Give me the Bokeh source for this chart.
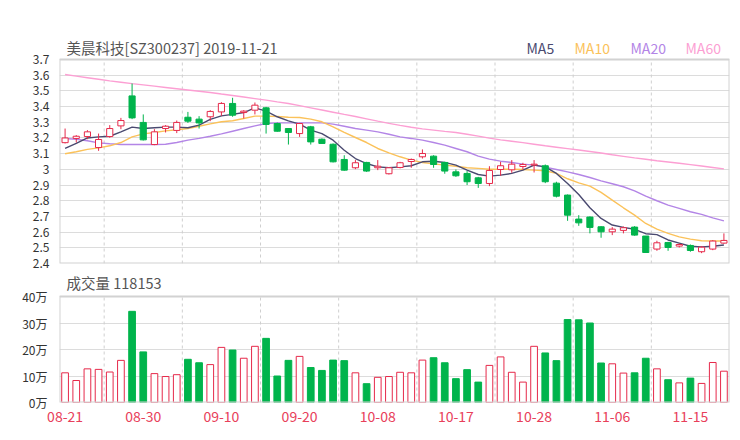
from bokeh.plotting import figure
from bokeh.layouts import column
from bokeh.models import FixedTicker, Label, Range1d, ColumnDataSource
from bokeh.embed import file_html
from bokeh.resources import INLINE

TITLE = "美晨科技[SZ300237] 2019-11-21"
VOL_TITLE = "成交量 118153"

DATES = ["08-21", "08-22", "08-23", "08-26", "08-27", "08-28", "08-29", "08-30",
         "09-02", "09-03", "09-04", "09-05", "09-06", "09-09", "09-10", "09-11",
         "09-12", "09-16", "09-17", "09-18", "09-19", "09-20", "09-23", "09-24",
         "09-25", "09-26", "09-27", "09-30", "10-08", "10-09", "10-10", "10-11",
         "10-14", "10-15", "10-16", "10-17", "10-18", "10-21", "10-22", "10-23",
         "10-24", "10-25", "10-28", "10-29", "10-30", "10-31", "11-01", "11-04",
         "11-05", "11-06", "11-07", "11-08", "11-11", "11-12", "11-13", "11-14",
         "11-15", "11-18", "11-19", "11-20"]

OPEN = [3.17, 3.197, 3.209, 3.139, 3.209, 3.277, 3.468, 3.299, 3.158, 3.26,
        3.248, 3.332, 3.32, 3.335, 3.366, 3.42, 3.362, 3.377, 3.392, 3.292,
        3.26, 3.228, 3.271, 3.192, 3.16, 3.063, 3.01, 3.044, 3.01, 2.972,
        3.012, 3.05, 3.08, 3.084, 3.044, 2.984, 2.974, 2.946, 2.91, 2.999,
        2.997, 3.018, 3.027, 3.023, 2.912, 2.836, 2.683, 2.696, 2.634, 2.602,
        2.611, 2.632, 2.575, 2.492, 2.534, 2.511, 2.515, 2.475, 2.492, 2.53]
CLOSE = [3.20, 3.211, 3.239, 3.19, 3.26, 3.311, 3.328, 3.188, 3.239, 3.275,
         3.299, 3.307, 3.296, 3.369, 3.42, 3.345, 3.371, 3.409, 3.286, 3.243,
         3.235, 3.292, 3.175, 3.165, 3.048, 2.995, 3.042, 2.989, 3.02, 3.01,
         3.042, 3.063, 3.101, 3.031, 2.989, 2.959, 2.921, 2.91, 2.993, 3.023,
         3.033, 3.031, 3.033, 2.921, 2.829, 2.708, 2.659, 2.63, 2.602, 2.619,
         2.628, 2.581, 2.47, 2.532, 2.502, 2.521, 2.483, 2.504, 2.543, 2.547]
HIGH = [3.26, 3.218, 3.25, 3.228, 3.282, 3.328, 3.547, 3.35, 3.256, 3.282,
        3.311, 3.366, 3.339, 3.377, 3.428, 3.456, 3.377, 3.426, 3.398, 3.298,
        3.262, 3.296, 3.277, 3.197, 3.165, 3.09, 3.059, 3.048, 3.059, 3.014,
        3.048, 3.069, 3.127, 3.09, 3.048, 2.999, 2.989, 2.952, 3.02, 3.048,
        3.059, 3.042, 3.059, 3.031, 2.921, 2.84, 2.708, 2.70, 2.638, 2.632,
        2.636, 2.638, 2.575, 2.545, 2.538, 2.528, 2.521, 2.511, 2.549, 2.592]
LOW = [3.165, 3.171, 3.192, 3.118, 3.201, 3.256, 3.32, 3.184, 3.154, 3.235,
       3.231, 3.296, 3.26, 3.307, 3.341, 3.335, 3.324, 3.35, 3.228, 3.24,
       3.158, 3.207, 3.158, 3.163, 3.044, 2.991, 3.001, 2.984, 2.995, 2.967,
       3.006, 3.01, 3.069, 3.01, 2.972, 2.952, 2.90, 2.882, 2.893, 2.959,
       2.978, 2.999, 2.98, 2.912, 2.821, 2.672, 2.64, 2.592, 2.564, 2.581,
       2.592, 2.577, 2.468, 2.481, 2.481, 2.502, 2.475, 2.466, 2.485, 2.526]
VOLUME = [112000, 83000, 127000, 125000, 115000, 159000, 344000, 191000, 109000, 98000,
          105000, 163000, 150000, 143000, 208000, 198000, 167000, 212000, 242000, 100000,
          159000, 174000, 132000, 121000, 160000, 158000, 112000, 71000, 95000, 98000,
          114000, 112000, 160000, 169000, 150000, 90000, 124000, 77000, 140000, 172000,
          114000, 77000, 212000, 187000, 158000, 313000, 312000, 300000, 149000, 146000,
          111000, 112000, 167000, 127000, 86000, 74000, 92000, 72000, 151000, 118153]

MA5 = [3.133, 3.165, 3.20, 3.207, 3.211, 3.239, 3.269, 3.26, 3.265, 3.269,
       3.269, 3.265, 3.282, 3.318, 3.341, 3.35, 3.362, 3.392, 3.371, 3.335,
       3.309, 3.288, 3.25, 3.228, 3.186, 3.122, 3.069, 3.037, 3.016, 3.01,
       3.016, 3.023, 3.048, 3.052, 3.044, 3.027, 2.995, 2.967, 2.957, 2.963,
       2.974, 2.995, 3.027, 3.016, 2.974, 2.91, 2.84, 2.755, 2.687, 2.645,
       2.63, 2.618, 2.59, 2.584, 2.55, 2.53, 2.51, 2.506, 2.51, 2.518]
MA10 = [3.099, 3.112, 3.127, 3.137, 3.15, 3.171, 3.207, 3.226, 3.235, 3.245,
        3.252, 3.26, 3.275, 3.29, 3.303, 3.31, 3.324, 3.339, 3.339, 3.337,
        3.332, 3.33, 3.32, 3.303, 3.271, 3.235, 3.203, 3.171, 3.133, 3.105,
        3.08, 3.059, 3.044, 3.035, 3.027, 3.02, 3.01, 3.006, 3.001, 3.001,
        3.001, 2.999, 2.995, 2.991, 2.974, 2.94, 2.914, 2.893, 2.853, 2.804,
        2.755, 2.708, 2.655, 2.619, 2.592, 2.57, 2.555, 2.545, 2.543, 2.543]
MA20 = [3.197, 3.192, 3.182, 3.169, 3.163, 3.158, 3.158, 3.158, 3.158, 3.16,
        3.171, 3.186, 3.197, 3.211, 3.226, 3.243, 3.26, 3.277, 3.292, 3.296,
        3.296, 3.296, 3.296, 3.296, 3.288, 3.275, 3.26, 3.25, 3.239, 3.224,
        3.207, 3.197, 3.186, 3.171, 3.154, 3.133, 3.112, 3.084, 3.065, 3.052,
        3.044, 3.033, 3.027, 3.014, 2.999, 2.984, 2.967, 2.948, 2.927, 2.908,
        2.889, 2.863, 2.829, 2.80, 2.772, 2.751, 2.73, 2.713, 2.691, 2.672]
MA60 = [3.604, 3.594, 3.584, 3.574, 3.564, 3.555, 3.546, 3.538, 3.530, 3.522,
        3.514, 3.506, 3.498, 3.490, 3.480, 3.471, 3.461, 3.451, 3.441, 3.430,
        3.420, 3.406, 3.392, 3.378, 3.364, 3.350, 3.337, 3.322, 3.307, 3.293,
        3.280, 3.268, 3.258, 3.250, 3.242, 3.235, 3.224, 3.212, 3.199, 3.188,
        3.179, 3.170, 3.160, 3.150, 3.141, 3.132, 3.123, 3.114, 3.104, 3.093,
        3.083, 3.073, 3.064, 3.055, 3.047, 3.039, 3.030, 3.021, 3.012, 3.003]

MA_NAMES = ["MA5", "MA10", "MA20", "MA60"]
MA_COLORS = ["#4a4a70", "#fbc25a", "#b385e6", "#fc9fd3"]

PRICE_MIN, PRICE_MAX = 2.4, 3.7
PRICE_TICKS = [2.4, 2.5, 2.6, 2.7, 2.8, 2.9, 3.0, 3.1, 3.2, 3.3, 3.4, 3.5, 3.6, 3.7]
PRICE_TICK_LABELS = ["2.4", "2.5", "2.6", "2.7", "2.8", "2.9", "3", "3.1", "3.2",
                     "3.3", "3.4", "3.5", "3.6", "3.7"]
VOL_MAX = 400000
VOL_TICKS = [0, 100000, 200000, 300000, 400000]
VOL_TICK_LABELS = ["0万", "10万", "20万", "30万", "40万"]
DATE_TICKS = [0, 7, 14, 21, 28, 35, 42, 49, 56]
GRID_X = [3.5, 10.5, 17.5, 24.5, 31.5, 38.5, 45.5, 52.5]

FONT = "Noto Sans CJK SC"
UP = "#e6294a"
DOWN = "#00b44c"
AXIS_RED = "#e8405a"
BORDER = "#d2d2d2"

n = len(DATES)
xs = list(range(n))
is_up = [c >= o for o, c in zip(OPEN, CLOSE)]
col = [UP if u else DOWN for u in is_up]
fill = ["#ffffff" if u else DOWN for u in is_up]

src = ColumnDataSource(dict(
    x=xs, high=HIGH, low=LOW,
    top=[max(o, c) for o, c in zip(OPEN, CLOSE)],
    bottom=[min(o, c) for o, c in zip(OPEN, CLOSE)],
    vol=VOLUME, color=col, fill=fill))

LEFT = 59
RIGHT = 8
FW = 670

# price panel: data area 204 px tall, header band of 29 px inside the frame
P_DATA_H = 204
P_HEAD = 29
p_top = PRICE_MAX + (PRICE_MAX - PRICE_MIN) * P_HEAD / P_DATA_H
# volume panel: data area 106 px tall, header band of 26 px
V_DATA_H = 106
V_HEAD = 26
v_top = VOL_MAX + VOL_MAX * V_HEAD / V_DATA_H


def style(fig, y0, y1):
    fig.outline_line_color = None
    fig.background_fill_color = "#ffffff"
    fig.border_fill_color = "#ffffff"
    fig.xgrid.visible = False
    fig.ygrid.grid_line_color = "#dcdcdc"
    fig.yaxis.axis_line_color = None
    fig.yaxis.major_tick_line_color = None
    fig.yaxis.minor_tick_line_color = None
    fig.yaxis.major_label_text_font = FONT
    fig.yaxis.major_label_text_font_size = "12px"
    fig.yaxis.major_label_text_color = "#333333"
    fig.segment(x0=GRID_X, y0=y0, x1=GRID_X, y1=y1, line_color="#cfcfcf",
                line_dash="3 3", line_width=1)


p = figure(frame_width=FW, frame_height=P_DATA_H + P_HEAD, title=None,
           x_range=Range1d(-0.5, n - 0.5), y_range=Range1d(PRICE_MIN, p_top),
           output_backend="svg", toolbar_location=None,
           min_border_left=LEFT, min_border_right=RIGHT,
           min_border_top=30, min_border_bottom=7)
style(p, PRICE_MIN, PRICE_MAX)
p.xaxis.visible = False
p.yaxis.ticker = FixedTicker(ticks=PRICE_TICKS)
p.ygrid.ticker = FixedTicker(ticks=PRICE_TICKS)
p.yaxis.major_label_overrides = dict(zip(PRICE_TICKS, PRICE_TICK_LABELS))
p.yaxis.major_label_standoff = 4

for data, c in zip([MA60, MA20, MA10, MA5], MA_COLORS[::-1]):
    p.line(xs, data, line_color=c, line_width=1.4)

p.segment(x0="x", y0="high", x1="x", y1="low", source=src, line_color="color", line_width=1)
p.vbar(x="x", top="top", bottom="bottom", width=0.55, source=src,
       fill_color="fill", line_color="color", line_width=1)
p.quad(left=-0.5, right=n - 0.5, bottom=PRICE_MIN, top=PRICE_MAX,
       fill_color=None, line_color=BORDER, line_width=2)

p.add_layout(Label(x=7, y=216, x_units="screen", y_units="screen", text=TITLE,
                   text_font=FONT, text_font_size="14.5px", text_color="#555555",
                   text_baseline="middle"))
for name, c, lx in zip(MA_NAMES, MA_COLORS, [467, 515, 571, 626]):
    p.add_layout(Label(x=lx, y=216, x_units="screen", y_units="screen", text=name,
                       text_font=FONT, text_font_size="14px", text_color=c,
                       text_baseline="middle"))

v = figure(frame_width=FW, frame_height=V_DATA_H + V_HEAD, title=None,
           x_range=p.x_range, y_range=Range1d(0, v_top),
           output_backend="svg", toolbar_location=None,
           min_border_left=LEFT, min_border_right=RIGHT,
           min_border_top=0, min_border_bottom=28)
style(v, 0, VOL_MAX)
v.yaxis.ticker = FixedTicker(ticks=VOL_TICKS)
v.ygrid.ticker = FixedTicker(ticks=VOL_TICKS)
v.yaxis.major_label_overrides = dict(zip(VOL_TICKS, VOL_TICK_LABELS))
v.yaxis.major_label_standoff = 6
v.xaxis.ticker = FixedTicker(ticks=DATE_TICKS)
v.xaxis.major_label_overrides = {i: DATES[i] for i in DATE_TICKS}
v.xaxis.axis_line_color = None
v.xaxis.major_tick_line_color = None
v.xaxis.minor_tick_line_color = None
v.xaxis.major_label_text_font = FONT
v.xaxis.major_label_text_font_size = "14px"
v.xaxis.major_label_text_color = AXIS_RED
v.xaxis.major_label_standoff = 2

v.vbar(x="x", top="vol", bottom=0, width=0.6, source=src,
       fill_color="fill", line_color="color", line_width=1)
v.quad(left=-0.5, right=n - 0.5, bottom=0, top=VOL_MAX,
       fill_color=None, line_color=BORDER, line_width=2)
v.add_layout(Label(x=7, y=120, x_units="screen", y_units="screen", text=VOL_TITLE,
                   text_font=FONT, text_font_size="14.5px", text_color="#555555",
                   text_baseline="middle"))

layout = column(p, v, spacing=0)
open("out.html", "w").write(file_html(layout, INLINE))
